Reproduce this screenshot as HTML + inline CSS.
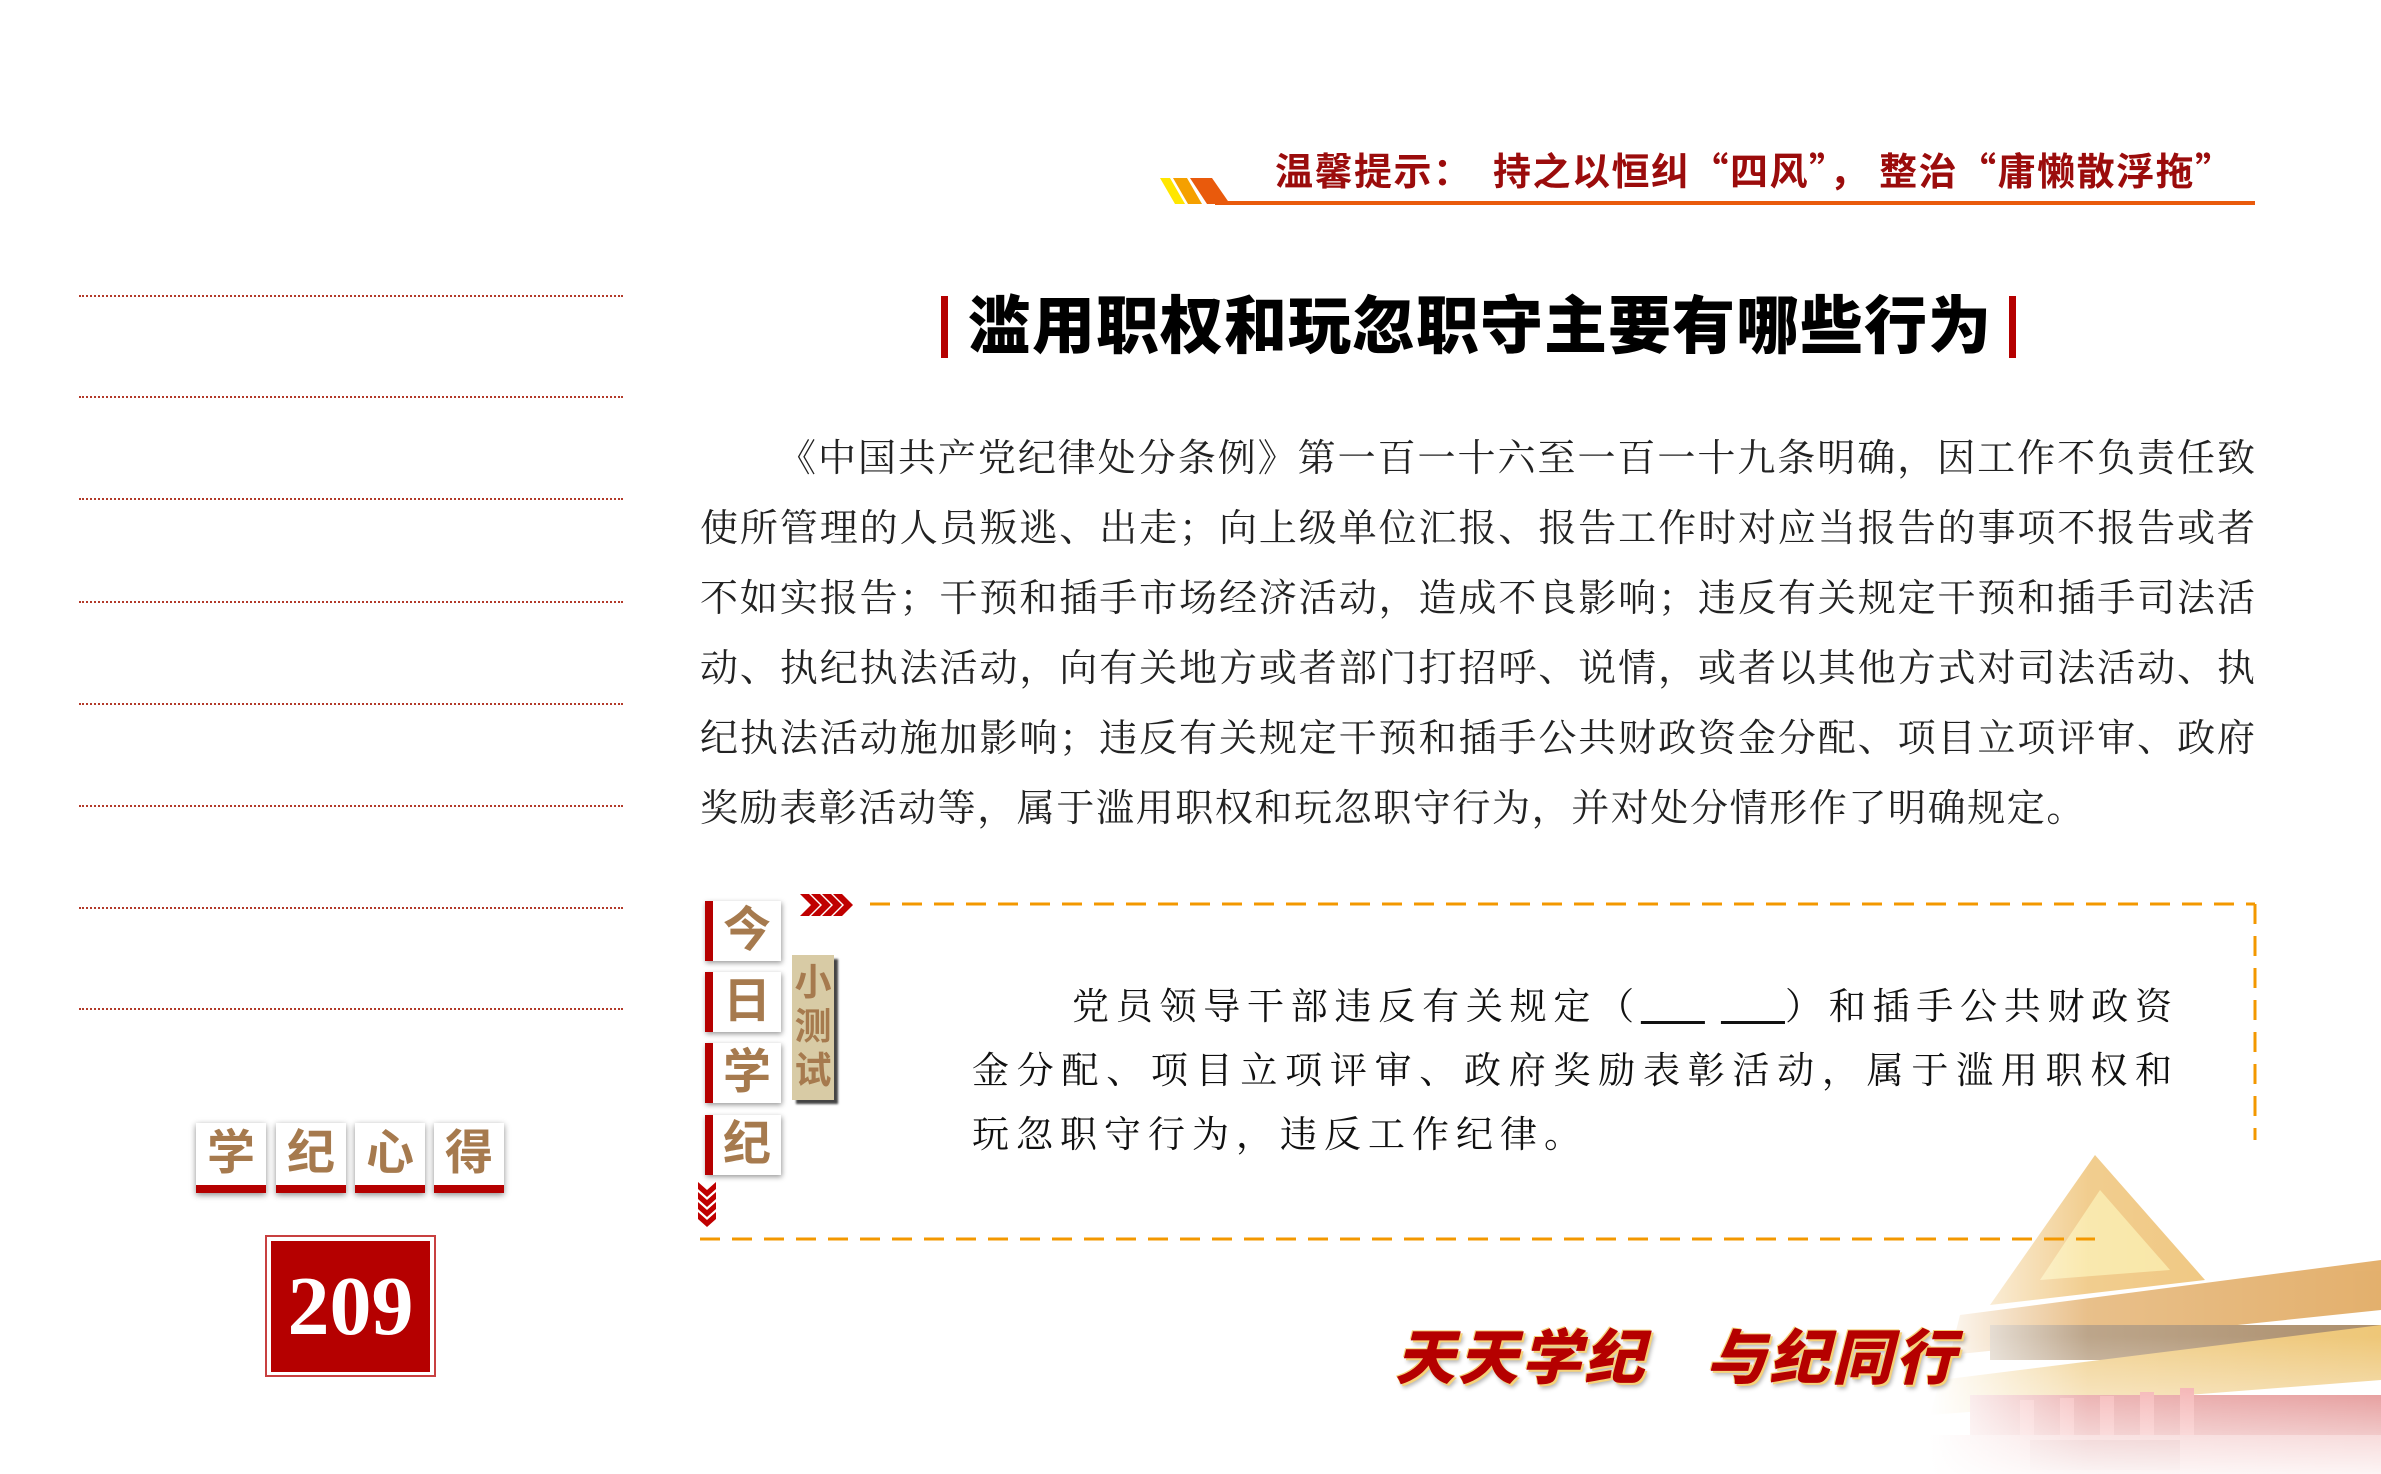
<!DOCTYPE html>
<html><head><meta charset="utf-8"><style>
*{margin:0;padding:0;box-sizing:border-box}
body{width:2381px;height:1474px;background:#fff;position:relative;overflow:hidden;font-family:"Liberation Sans","Noto Sans CJK SC",sans-serif}
.a{position:absolute}
.dot{position:absolute;left:79px;width:544px;border-top:2px dotted #b33a2a}
.body{left:700px;width:1555px;font-family:"Liberation Serif","Noto Serif CJK SC",serif;font-size:38px;color:#222}
.body div{height:70px;line-height:70px;text-align:justify;text-align-last:justify;white-space:nowrap}
.kb{position:absolute;width:70px;height:70px;background:#fff;box-shadow:0 2px 6px rgba(0,0,0,.45);border-bottom:8px solid #b50000;color:#a67a4e;font-weight:bold;font-size:48px;text-align:center;line-height:62px}
.qb{position:absolute;left:705px;width:76px;height:60px;background:#fff;box-shadow:1px 2px 5px rgba(0,0,0,.4);border-left:8px solid #b50000;color:#a67a4e;font-weight:bold;font-size:48px;text-align:center;line-height:60px}
.q{left:972px;width:1200px;font-family:"Liberation Serif","Noto Serif CJK SC",serif;font-size:37px;color:#111}
.q div{height:64px;line-height:64px;white-space:nowrap;text-align:justify;text-align-last:justify}
</style></head><body>

<!-- header -->
<svg class="a" style="left:1155px;top:170px" width="1110" height="40">
<polygon points="5,8 15,8 30,34 20,34" fill="#ffe600"/>
<polygon points="18,8 32,8 47,34 33,34" fill="#f5a000"/>
<polygon points="35,8 57,8 75,34 52,34" fill="#e95a0c"/>
<rect x="60" y="31" width="1040" height="4" fill="#e95a0c"/>
</svg>
<div class="a" style="left:1275px;top:144px;font-family:'Noto Sans CJK SC',sans-serif;font-size:38px;font-weight:bold;color:#9b0c0c;white-space:nowrap;letter-spacing:1.5px;line-height:50px">温馨提示：　持之以恒纠“四风”，&nbsp;整治“庸懒散浮拖”</div>

<!-- title -->
<div class="a" style="left:941px;top:296px;width:7px;height:62px;background:#b50000"></div>
<div class="a" style="left:2009px;top:296px;width:7px;height:62px;background:#b50000"></div>
<div class="a" style="left:962px;top:288px;width:1036px;font-size:63px;font-weight:900;color:#000;white-space:nowrap;line-height:78px;text-align:center;letter-spacing:1px">滥用职权和玩忽职守主要有哪些行为</div>

<!-- left dotted lines -->
<div class="dot" style="top:295px"></div><div class="dot" style="top:396px"></div>
<div class="dot" style="top:498px"></div><div class="dot" style="top:601px"></div>
<div class="dot" style="top:703px"></div><div class="dot" style="top:805px"></div>
<div class="dot" style="top:907px"></div><div class="dot" style="top:1008px"></div>

<!-- body -->
<div class="a body" style="top:424px">
<div style="padding-left:78px">《中国共产党纪律处分条例》第一百一十六至一百一十九条明确，因工作不负责任致</div>
<div>使所管理的人员叛逃、出走；向上级单位汇报、报告工作时对应当报告的事项不报告或者</div>
<div>不如实报告；干预和插手市场经济活动，造成不良影响；违反有关规定干预和插手司法活</div>
<div>动、执纪执法活动，向有关地方或者部门打招呼、说情，或者以其他方式对司法活动、执</div>
<div>纪执法活动施加影响；违反有关规定干预和插手公共财政资金分配、项目立项评审、政府</div>
<div style="text-align-last:left;letter-spacing:1.6px">奖励表彰活动等，属于滥用职权和玩忽职守行为，并对处分情形作了明确规定。</div>
</div>

<!-- 学纪心得 -->
<div class="kb" style="left:196px;top:1123px">学</div>
<div class="kb" style="left:276px;top:1123px">纪</div>
<div class="kb" style="left:355px;top:1123px">心</div>
<div class="kb" style="left:434px;top:1123px">得</div>
<div class="a" style="left:265px;top:1235px;width:171px;height:142px;border:2px solid #c84040"></div>
<div class="a" style="left:271px;top:1241px;width:159px;height:131px;background:#b50000;color:#fff;font-family:'Liberation Serif',serif;font-weight:bold;font-size:84px;text-align:center;line-height:131px">209</div>

<!-- building -->
<svg class="a" style="left:1930px;top:1130px" width="451" height="344">
<defs>
<linearGradient id="fl" x1="0" y1="0" x2="1" y2="0"><stop offset="0" stop-color="#fff" stop-opacity="1"/><stop offset="0.35" stop-color="#fff" stop-opacity="0.2"/><stop offset="1" stop-color="#fff" stop-opacity="0"/></linearGradient>
<linearGradient id="fb" x1="0" y1="0" x2="0" y2="1"><stop offset="0.6" stop-color="#fff" stop-opacity="0"/><stop offset="1" stop-color="#fff" stop-opacity="0.9"/></linearGradient>
</defs>
<g opacity="0.7">
<polygon points="165,25 275,150 60,175" fill="#e8a838"/>
<polygon points="170,60 240,140 110,150" fill="#f6d870"/>
<polygon points="30,185 451,130 451,180 20,225" fill="#d89030"/>
<rect x="60" y="195" width="391" height="35" fill="#8a6030"/>
<polygon points="10,250 451,195 451,250 0,285" fill="#e8b040"/>
<rect x="40" y="265" width="411" height="45" fill="#c82828"/>
<g fill="#e85050"><rect x="90" y="270" width="14" height="38"/><rect x="130" y="268" width="14" height="40"/><rect x="170" y="266" width="14" height="42"/><rect x="210" y="262" width="14" height="46"/><rect x="250" y="258" width="14" height="50"/></g>
<rect x="0" y="305" width="451" height="39" fill="#e07070"/>
<rect x="100" y="310" width="150" height="30" fill="#c04040"/>
</g>
<rect width="451" height="344" fill="url(#fl)"/>
<rect width="451" height="344" fill="url(#fb)"/>
</svg>

<!-- quiz -->
<svg class="a" style="left:690px;top:890px" width="1580" height="360">
<line x1="180" y1="14" x2="1565" y2="14" stroke="#f39800" stroke-width="3" stroke-dasharray="20 12"/>
<line x1="1565" y1="14" x2="1565" y2="250" stroke="#f39800" stroke-width="3" stroke-dasharray="20 12"/>
<line x1="10" y1="349" x2="1405" y2="349" stroke="#f39800" stroke-width="3" stroke-dasharray="20 12"/>
<g fill="#c00000">
<polygon points="110,4 119,4 130,15 119,26 110,26 121,15"/>
<polygon points="121,4 130,4 141,15 130,26 121,26 132,15"/>
<polygon points="132,4 141,4 152,15 141,26 132,26 143,15"/>
<polygon points="143,4 152,4 163,15 152,26 143,26 154,15"/>
<polygon points="8,292 17,300 26,292 26,299 17,307 8,299"/>
<polygon points="8,302 17,310 26,302 26,309 17,317 8,309"/>
<polygon points="8,312 17,320 26,312 26,319 17,327 8,319"/>
<polygon points="8,322 17,330 26,322 26,329 17,337 8,329"/>
</g>
</svg>
<div class="qb" style="top:901px">今</div>
<div class="qb" style="top:972px">日</div>
<div class="qb" style="top:1043px">学</div>
<div class="qb" style="top:1115px">纪</div>
<div class="a" style="left:792px;top:955px;width:42px;height:145px;background:#d8cba5;box-shadow:4px 4px 2px #444;color:#a67a4e;font-weight:bold;font-size:37px;line-height:44px;text-align:center;padding-top:6px">小<br>测<br>试</div>

<div class="a q" style="top:976px">
<div style="padding-left:100px">党员领导干部违反有关规定（<u>&nbsp;&nbsp;&nbsp;&nbsp;</u>&nbsp;<u>&nbsp;&nbsp;&nbsp;&nbsp;</u>）和插手公共财政资</div>
<div>金分配、项目立项评审、政府奖励表彰活动，属于滥用职权和</div>
<div style="text-align-last:left;letter-spacing:7px">玩忽职守行为，违反工作纪律。</div>
</div>

<!-- slogan -->
<div class="a" style="left:1395px;top:1310px;font-size:60px;font-weight:900;font-style:italic;color:#b50000;white-space:nowrap;letter-spacing:3px;text-shadow:2px 2px 0 #f5d27a,-1px -1px 0 #f5d27a,3px 4px 4px rgba(0,0,0,.3)">天天学纪&nbsp;&nbsp;&nbsp;与纪同行</div>
</body></html>
